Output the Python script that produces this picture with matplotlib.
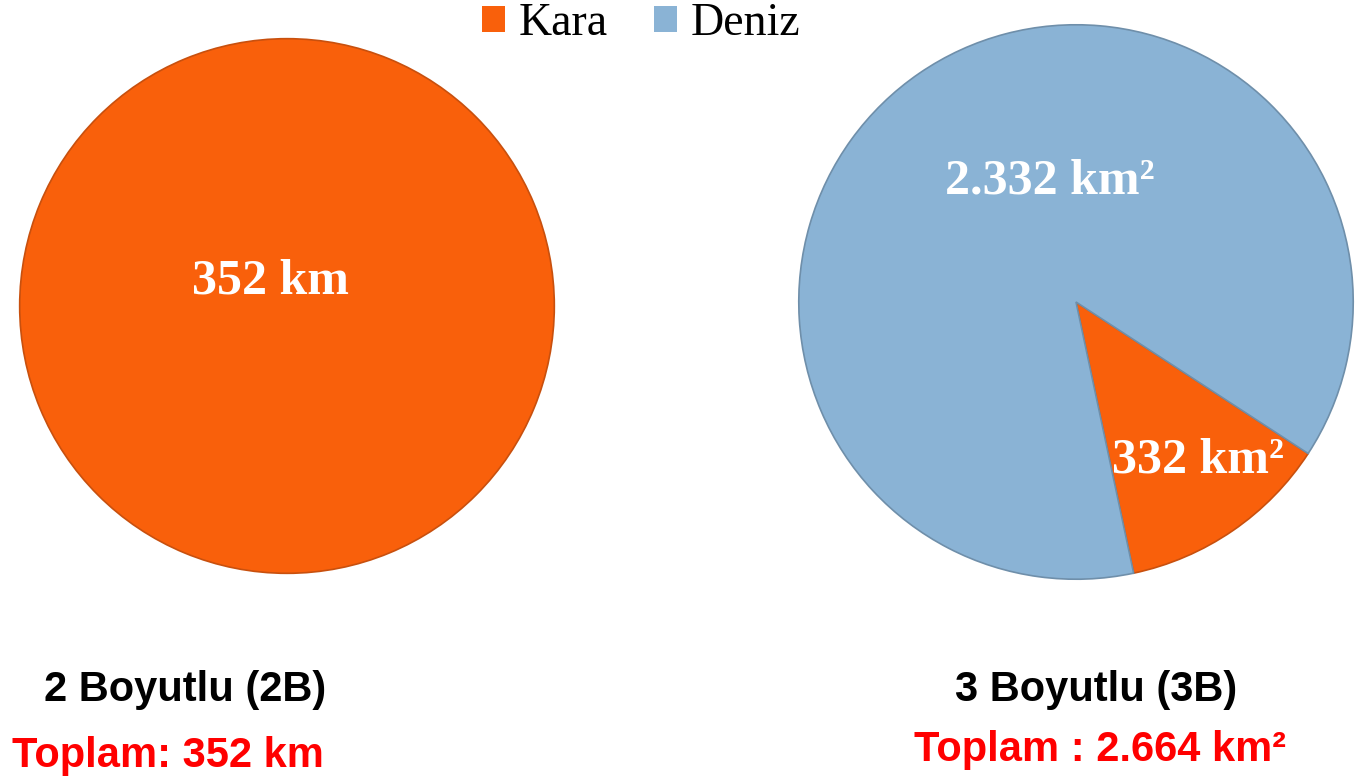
import matplotlib
matplotlib.use("Agg")
import matplotlib.pyplot as plt
from matplotlib.patches import Patch

W, H = 1357, 784

categories = ["Kara", "Deniz"]
colors = ["#F9600B", "#8AB3D5"]
edges = ["#C8500E", "#7A9DBB"]

values_2d = [352]
values_3d = [332, 2332]

labels_2d = ["352 km"]
labels_3d = ["332 km²", "2.332 km²"]

title_2d = "2 Boyutlu (2B)"
total_2d = "Toplam: 352 km"
title_3d = "3 Boyutlu (3B)"
total_3d = "Toplam : 2.664 km²"

fig = plt.figure(figsize=(W / 100, H / 100), dpi=100)


def px_axes(cx, cy, r):
    # axes box in pixel coords (y from top)
    return fig.add_axes([(cx - r) / W, (H - cy - r) / H, 2 * r / W, 2 * r / H])


def px_text(x, y, s, **kw):
    fig.text(x / W, 1 - y / H, s, ha="center", va="center", **kw)


serif = dict(family="Liberation Serif", weight="bold", color="white", fontsize=36)
sans = dict(family="Liberation Sans", weight="bold", fontsize=30)

# left pie
ax1 = px_axes(287, 306, 270)
ax1.pie(values_2d, colors=[colors[0]], radius=1,
        wedgeprops=dict(edgecolor=edges[0], linewidth=1.2))
ax1.set_xlim(-1.01, 1.01)
ax1.set_ylim(-1.01, 1.01)
ax1.set_aspect("equal")
ax1.axis("off")
px_text(270, 281, labels_2d[0], **serif)

# right pie
ax2 = px_axes(1076, 302, 280)
wedges, _ = ax2.pie(values_3d, colors=colors, radius=1, startangle=-78,
                    wedgeprops=dict(edgecolor="#6F8FAA", linewidth=1.2))
wedges[0].set_edgecolor(edges[0])
ax2.set_xlim(-1.01, 1.01)
ax2.set_ylim(-1.01, 1.01)
ax2.set_aspect("equal")
ax2.axis("off")
px_text(1198, 460, labels_3d[0], **serif)
px_text(1050, 182, labels_3d[1], **serif)

# legend
handles = [Patch(facecolor=c, edgecolor="none") for c in colors]
fig.legend(handles, categories, loc="center", bbox_to_anchor=(641 / W, 1 - 24 / H),
           ncol=2, frameon=False, prop=dict(family="Liberation Serif", size=33),
           handlelength=0.5, handleheight=0.5, handletextpad=0.3, columnspacing=1.0)

# bottom labels
px_text(185, 690, title_2d, color="black", **sans)
px_text(168, 756, total_2d, color="#FF0000", **sans)
px_text(1096, 690, title_3d, color="black", **sans)
px_text(1100, 750, total_3d, color="#FF0000", **sans)

fig.savefig("out.png", dpi=100)
